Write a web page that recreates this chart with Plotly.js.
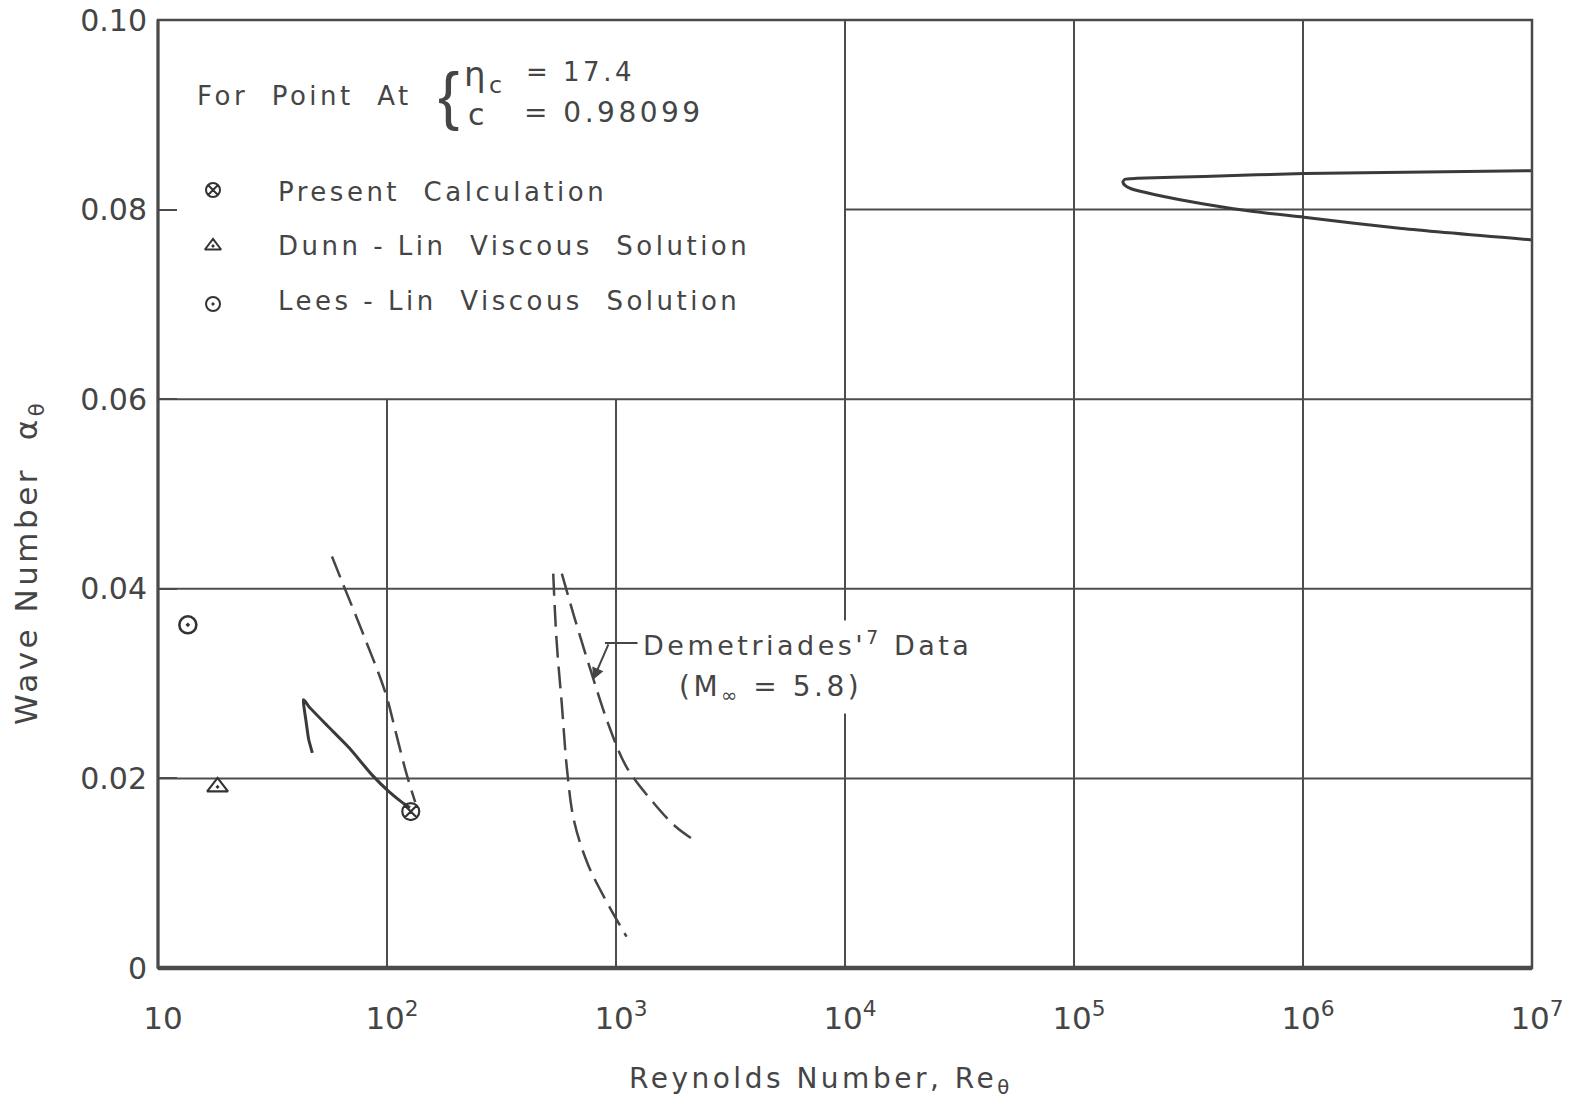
<!DOCTYPE html>
<html><head><meta charset="utf-8">
<script src="https://cdn.plot.ly/plotly-3.0.1.min.js"></script>
<style>
html,body{margin:0;padding:0;background:#fff;}
#chart{width:1573px;height:1105px;}
.annotation-text{letter-spacing:3.5px;}
</style></head><body><div id="chart"></div>
<script>
// ---------- data ----------
const presentRe = [127];
const presentAlpha = [0.0165];
const dunnLinRe = [18.2];
const dunnLinAlpha = [0.0191];
const leesLinRe = [13.5];
const leesLinAlpha = [0.0362];

// present calculation neutral curve, low Reynolds branch
const lowCurveRe    = [47.2, 45.5, 44.2, 43.3, 43.1, 44.0, 45.5, 55.2, 68.5, 85.8, 102, 116, 126];
const lowCurveAlpha = [0.0227, 0.0241, 0.0262, 0.0277, 0.0283, 0.0281, 0.0276, 0.0255, 0.0232, 0.0204, 0.0186, 0.0175, 0.0169];

// present calculation neutral curve, high Reynolds branch
const highCurveRe    = [1e7, 1.01e6, 3.69e5, 1.89e5, 1.67e5, 1.635e5, 1.68e5, 1.777e5, 2.24e5, 3.69e5, 6.075e5, 1.01e6, 2.7e6, 1e7];
const highCurveAlpha = [0.0841, 0.0838, 0.0835, 0.0833, 0.0832, 0.0829, 0.0825, 0.0822, 0.0816, 0.0806, 0.0798, 0.0792, 0.0780, 0.0768];

// Demetriades' data (dashed)
const demA_Re    = [57.5, 64.0, 79.4, 98.5, 109.4, 121.6, 132.8];
const demA_Alpha = [0.0434, 0.0406, 0.0350, 0.0290, 0.0248, 0.0205, 0.0175];
const demB_Re    = [532, 550, 580, 612, 656, 755, 900, 1112];
const demB_Alpha = [0.0416, 0.0346, 0.0278, 0.0208, 0.0155, 0.0109, 0.0072, 0.0033];
const demC_Re    = [580, 656, 782, 933, 1112, 1426, 1825, 2259];
const demC_Alpha = [0.0416, 0.0371, 0.0311, 0.0255, 0.0212, 0.0177, 0.0149, 0.0133];
const arrowTargetRe = [794];
const arrowTargetAlpha = [0.0304];

// axes / grid
const xTickVals = [10, 100, 1e3, 1e4, 1e5, 1e6, 1e7];
const xTickText = ['10', '10<sup>2</sup>', '10<sup>3</sup>', '10<sup>4</sup>', '10<sup>5</sup>', '10<sup>6</sup>', '10<sup>7</sup>'];
const yTickVals = [0, 0.02, 0.04, 0.06, 0.08, 0.10];
const yTickText = ['0', '0.02', '0.04', '0.06', '0.08', '0.10'];
const gridFullY = [0.02, 0.04, 0.06];
const gridPartialY = [0.08];
const gridPartialFromX = 1e4;
const gridShortX = [100, 1000];
const gridShortTop = 0.06;
const gridFullX = [1e4, 1e5, 1e6];
const xMin = 10, xMax = 1e7, yMin = 0, yMax = 0.10;

// ---------- layout helpers ----------
const W = 1573, H = 1105, ML = 158, MR = 41, MT = 20, MB = 137;
const PW = W - ML - MR, PH = H - MT - MB;
const px = p => (p - ML) / PW;
const py = p => (H - MB - p) / PH;
const INK = '#454545';
const FONT = 'DejaVu Sans';

// grid segments
const gx = [], gy = [];
gridFullY.forEach(v => { gx.push(xMin, xMax, null); gy.push(v, v, null); });
gridPartialY.forEach(v => { gx.push(gridPartialFromX, xMax, null); gy.push(v, v, null); });
gridShortX.forEach(v => { gx.push(v, v, null); gy.push(yMin, gridShortTop, null); });
gridFullX.forEach(v => { gx.push(v, v, null); gy.push(yMin, yMax, null); });

const dashStyle = '22px,9px';
const traces = [
  {x: gx, y: gy, mode: 'lines', line: {color: '#4d4d4d', width: 2}, hoverinfo: 'skip'},
  {x: lowCurveRe, y: lowCurveAlpha, mode: 'lines', line: {color: '#3a3a3a', width: 3, shape: 'spline', smoothing: 0.4}},
  {x: highCurveRe, y: highCurveAlpha, mode: 'lines', line: {color: '#3a3a3a', width: 3, shape: 'spline', smoothing: 0.6}},
  {x: demA_Re, y: demA_Alpha, mode: 'lines', line: {color: INK, width: 2.5, dash: dashStyle, shape: 'spline'}},
  {x: demB_Re, y: demB_Alpha, mode: 'lines', line: {color: INK, width: 2.5, dash: dashStyle, shape: 'spline'}},
  {x: demC_Re, y: demC_Alpha, mode: 'lines', line: {color: INK, width: 2.5, dash: dashStyle, shape: 'spline'}},
  {x: presentRe, y: presentAlpha, mode: 'markers', marker: {symbol: 'circle-x-open', size: 17, color: '#333', line: {width: 2.2, color: '#333'}}},
  {x: dunnLinRe, y: dunnLinAlpha, mode: 'markers', marker: {symbol: 'triangle-up-open-dot', size: 18, color: '#333', line: {width: 2.2, color: '#333'}}},
  {x: leesLinRe, y: leesLinAlpha, mode: 'markers', marker: {symbol: 'circle-open-dot', size: 17, color: '#333', line: {width: 2.6, color: '#333'}}},
  // legend key symbols (on a hidden overlay axis in paper units)
  {x: [px(213), px(213), px(213)], y: [py(190), py(246), py(304)], xaxis: 'x2', yaxis: 'y2', mode: 'markers',
   marker: {symbol: ['circle-x-open', 'triangle-up-open-dot', 'circle-open-dot'], size: 14, color: '#333', line: {width: 2, color: '#333'}}}
];

const ann = (text, x, y, size, extra) => Object.assign({
  text, x: px(x), y: py(y), xref: 'paper', yref: 'paper', showarrow: false,
  xanchor: 'left', yanchor: 'middle', align: 'left', font: {family: FONT, size, color: INK}
}, extra || {});

const annotations = [
  ann('For  Point  At', 195, 96, 26),
  ann('{', 436, 96, 64, {font: {family: 'Liberation Sans', size: 64, color: INK}}),
  ann('η<sub>c</sub>', 462, 77, 34),
  ann('= 17.4', 524, 72, 26),
  ann('c', 466, 114, 30),
  ann('= 0.98099', 522, 113, 28),
  ann('Present  Calculation', 276, 192, 26),
  ann('Dunn - Lin  Viscous  Solution', 276, 246, 26),
  ann('Lees - Lin  Viscous  Solution', 276, 301, 26),
  ann("Demetriades'<sup>7</sup> Data", 637, 643, 27, {bgcolor: '#ffffff', borderpad: 5}),
  ann('(M<sub>∞</sub> = 5.8)', 672, 688, 28, {bgcolor: '#ffffff', borderpad: 6}),
  {text: '', x: Math.log10(arrowTargetRe[0]), y: arrowTargetAlpha[0], xref: 'x', yref: 'y',
   showarrow: true, ax: 16, ay: -37, arrowhead: 2, arrowsize: 1.2, arrowwidth: 2, arrowcolor: INK},
  ann('Wave Number  α<sub>θ</sub>', 28, 563, 31, {textangle: -90, xanchor: 'center', align: 'center'}),
  ann('Reynolds Number, Re<sub>θ</sub>', 821, 1080, 28, {xanchor: 'center', align: 'center'})
];

const shapes = [
  {type: 'rect', xref: 'paper', yref: 'paper', x0: 0, x1: 1, y0: 0, y1: 1, line: {color: '#4a4a4a', width: 2.5}},
  {type: 'line', xref: 'paper', yref: 'paper', x0: 0, x1: 1, y0: 0, y1: 0, line: {color: '#4a4a4a', width: 4.5}},
  {type: 'line', xref: 'paper', yref: 'paper', x0: 0, x1: 0, y0: 0, y1: 1, line: {color: '#4a4a4a', width: 3}},
  {type: 'line', xref: 'paper', yref: 'paper', x0: px(605), x1: px(641), y0: py(643), y1: py(643), line: {color: INK, width: 2}}
];

const layout = {
  width: W, height: H,
  margin: {l: ML, r: MR, t: MT, b: MB},
  paper_bgcolor: '#ffffff', plot_bgcolor: '#ffffff',
  showlegend: false,
  font: {family: FONT, color: INK},
  xaxis: {type: 'log', range: [Math.log10(xMin), Math.log10(xMax)], showgrid: false, zeroline: false, showline: false,
          ticks: '', tickvals: xTickVals, ticktext: xTickText, tickfont: {size: 31, color: INK},
          ticklabelstandoff: 29, ticklabelshift: 5, fixedrange: true},
  yaxis: {range: [yMin, yMax], showgrid: false, zeroline: false, showline: false,
          ticks: 'inside', ticklen: 19, tickwidth: 2, tickcolor: '#4a4a4a',
          tickvals: yTickVals, ticktext: yTickText, tickfont: {size: 30, color: INK},
          ticklabelstandoff: 10, fixedrange: true},
  xaxis2: {overlaying: 'x', range: [0, 1], visible: false, fixedrange: true},
  yaxis2: {overlaying: 'y', range: [0, 1], visible: false, fixedrange: true},
  annotations, shapes
};

Plotly.newPlot('chart', traces, layout, {displayModeBar: false, staticPlot: true});
</script></body></html>
